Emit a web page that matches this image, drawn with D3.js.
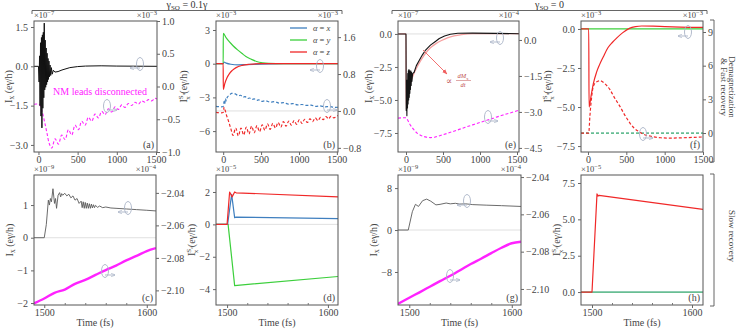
<!DOCTYPE html>
<html>
<head>
<meta charset="utf-8">
<script src="https://cdn.jsdelivr.net/npm/d3@7"></script>
<style>
body { margin: 0; background: #fff; }
svg text { font-family: "Liberation Serif", "Times New Roman", "DejaVu Serif", serif !important; }
</style>
</head>
<body>
<div id="chart"></div>
<script>
// ---- data, [time (fs), value] ----
// (a) total charge current (x1e-7) and magnetization (x1e-3), gamma_SO = 0.1 gamma
let aCurrent = [[-57,0],[0,0],[8,-0.6],[14,0.4],[20,-1.5],[26,0.9],[32,-1.9],[38,1.1],[44,-2.35],[50,1.2],[56,-1.6],
  [62,1.3],[68,-1.2],[74,1.65],[80,-0.9],[86,1.0],[92,-0.8],[98,0.7],[104,-0.7],[110,0.5],[116,-0.6],[122,0.3],
  [128,-0.5],[134,0.2],[140,-0.4],[148,0.05],[156,-0.35],[165,-0.05],[175,-0.3],[190,-0.15],[210,-0.22],[250,-0.2],
  [300,-0.14],[400,-0.05],[500,-0.01],[600,0.01],[800,0.02],[1000,0.01],[1513,0]];
let aMag = [[-57,-0.27],[0,-0.27],[20,-0.29],[50,-0.4],[80,-0.55],[110,-0.72],[140,-0.88],[170,-0.94],[212,-0.8],
  [255,-0.88],[297,-0.74],[340,-0.81],[382,-0.66],[425,-0.74],[467,-0.59],[510,-0.66],[552,-0.53],[595,-0.59],
  [637,-0.47],[680,-0.53],[722,-0.42],[765,-0.48],[807,-0.38],[850,-0.43],[892,-0.34],[935,-0.39],[977,-0.31],
  [1020,-0.35],[1062,-0.28],[1105,-0.32],[1147,-0.26],[1190,-0.29],[1232,-0.24],[1275,-0.27],[1317,-0.22],
  [1360,-0.24],[1402,-0.2],[1445,-0.22],[1487,-0.18],[1513,-0.19]];

// (b) spin currents (x1e-3, solid) and spin of the magnet (x1e-3, dashed)
let bSpinX = [[-95,0],[0,0],[10,0.15],[40,0.05],[100,-0.05],[200,-0.1],[300,-0.08],[500,-0.03],[800,0],[1515,0]];
let bSpinY = [[-95,0],[0,0],[1,2.7],[40,2.3],[80,1.96],[130,1.6],[190,1.23],[250,0.9],[300,0.64],[370,0.4],
  [440,0.2],[520,0.08],[600,0.03],[800,0],[1515,0]];
let bSpinZ = [[-95,0],[0,0],[1,-2.3],[20,-1.8],[50,-1.25],[80,-0.9],[120,-0.6],[170,-0.35],[250,-0.15],[350,-0.05],
  [500,0],[1515,0]];
let bMagX = [[-95,0.1],[0,0.1],[10,0.2],[20,0.15],[30,0.27],[40,0.22],[55,0.3],[80,0.34],[110,0.38],[140,0.38],
  [170,0.36],[200,0.33],[230,0.34],[260,0.3],[290,0.31],[320,0.27],[350,0.28],[380,0.25],[410,0.26],[440,0.23],
  [470,0.24],[500,0.21],[560,0.22],[620,0.19],[680,0.2],[740,0.17],[800,0.18],[860,0.15],[920,0.16],[980,0.13],
  [1040,0.14],[1100,0.12],[1160,0.125],[1220,0.1],[1280,0.11],[1340,0.09],[1400,0.095],[1460,0.08],[1515,0.08]];
let bMagZ = [[-95,-0.03],[0,-0.03],[10,0.08],[25,0.02],[45,-0.1],[70,-0.22],[100,-0.38],[130,-0.53],[165,-0.37],
  [200,-0.54],[235,-0.37],[270,-0.52],[305,-0.35],[340,-0.5],[375,-0.33],[410,-0.47],[445,-0.32],[480,-0.45],
  [515,-0.3],[550,-0.42],[585,-0.28],[620,-0.4],[655,-0.27],[690,-0.37],[725,-0.25],[760,-0.35],[795,-0.23],
  [830,-0.33],[865,-0.22],[900,-0.31],[935,-0.21],[970,-0.29],[1005,-0.19],[1040,-0.27],[1075,-0.18],[1110,-0.25],
  [1145,-0.17],[1180,-0.23],[1215,-0.15],[1250,-0.21],[1285,-0.14],[1320,-0.19],[1355,-0.12],[1390,-0.17],
  [1425,-0.11],[1460,-0.15],[1515,-0.1]];

// (e) charge current (x1e-7), dM/dt guide, magnetization (x1e-4), gamma_SO = 0
let eCurrent = [[-108,0],[0,0],[3,-5.8],[8,-5.0],[12,-6.2],[16,-3.5],[20,-5.6],[24,-3.0],[28,-5.3],[32,-2.8],
  [36,-5.0],[40,-2.7],[44,-4.8],[48,-2.8],[52,-4.5],[56,-2.9],[60,-4.2],[65,-2.8],[70,-3.9],[75,-2.9],[80,-3.6],
  [90,-3.0],[110,-2.9],[140,-2.4],[180,-2.0],[220,-1.6],[265,-1.22],[330,-0.85],[393,-0.59],[450,-0.35],
  [521,-0.15],[600,-0.02],[700,0.05],[900,0.06],[1200,0.04],[1527,0.02]];
let eDMdt = [[-108,0],[0,0],[2,-5.7],[20,-4.8],[50,-3.9],[100,-3.1],[150,-2.5],[200,-2.0],[260,-1.5],[330,-1.05],
  [400,-0.75],[480,-0.5],[560,-0.3],[650,-0.15],[750,-0.05],[900,0.02],[1527,0.02]];
let eMag = [[-108,-3.26],[0,-3.24],[15,-3.3],[50,-3.5],[100,-3.72],[150,-3.88],[200,-3.98],[260,-4.04],[330,-4.07],
  [400,-4.04],[500,-3.95],[600,-3.85],[700,-3.75],[800,-3.64],[900,-3.54],[1000,-3.44],[1100,-3.34],[1200,-3.24],
  [1300,-3.14],[1400,-3.05],[1527,-2.93]];

// (f) spin currents (x1e-3) and spin of the magnet (x1e-3)
let fSpinZ = [[-91,0],[10,0],[14,-5.0],[40,-4.3],[70,-3.5],[110,-2.8],[150,-2.3],[200,-1.78],[260,-1.2],[320,-0.85],
  [370,-0.6],[450,-0.25],[540,0.04],[620,0.15],[700,0.19],[850,0.18],[1000,0.15],[1200,0.12],[1500,0.1]];
let fSpinXY = [[-91,0],[1500,0]];
let fMagZ = [[-91,0],[10,0],[25,1.5],[44,2.97],[70,4.16],[110,4.55],[156,4.66],[220,4.4],[287,3.86],[350,3.1],
  [417,2.37],[480,1.6],[547,0.89],[600,0.45],[657,0.15],[740,-0.15],[826,-0.3],[950,-0.42],[1060,-0.45],
  [1250,-0.42],[1500,-0.35]];
let fMagXY = [[-91,0],[1500,0]];

// (c) slow recovery, gamma_SO = 0.1 gamma: current (x1e-9) and magnetization (x1e-4)
let cCurrent = [[1490,0],[1500,0],[1502,0.4],[1504,1.15],[1505,1.0],[1506,1.2],[1507,1.1],[1508.5,1.5],[1510,1.05],
  [1511,1.2],[1512,0.9],[1513.5,1.3],[1515,1.38],[1516,1.25],[1517,1.35],[1518,1.3],[1520,1.36],[1522,1.28],
  [1524,1.33],[1526,1.22],[1528,1.28],[1530,1.15],[1532,1.2],[1534,1.05],[1536,1.12],[1537,0.92],[1538,1.1],
  [1539,0.9],[1540,1.08],[1541,0.9],[1542,1.06],[1543,0.9],[1544,1.04],[1545,0.9],[1546,1.03],[1547,0.91],
  [1548,1.01],[1549,0.92],[1550,0.99],[1552,0.93],[1554,0.97],[1557,0.92],[1560,0.94],[1565,0.91],[1570,0.9],
  [1580,0.88],[1590,0.86],[1600,0.84],[1609,0.82]];
let cMag = [[1490,-2.108],[1500,-2.105],[1510,-2.1015],[1520,-2.0995],[1530,-2.096],[1540,-2.0935],[1550,-2.0905],
  [1560,-2.0875],[1570,-2.0848],[1580,-2.0815],[1590,-2.0788],[1600,-2.0758],[1609,-2.074]];

// (d) spin currents (x1e-5)
let dSpinX = [[1489,0],[1500.5,0],[1504.5,1.85],[1507.5,0.42],[1509,0.45],[1610,0.35]];
let dSpinY = [[1489,0],[1501,0],[1507.5,-3.78],[1610,-3.22]];
let dSpinZ = [[1489,0],[1500,0],[1502.5,2.0],[1505,1.7],[1507.5,2.0],[1509,1.95],[1610,1.7]];

// (g) slow recovery, gamma_SO = 0: current (x1e-9) and magnetization (x1e-4)
let gCurrent = [[1489,0],[1499,0],[1503,3.5],[1506,4.9],[1509,4.5],[1513,5.6],[1517,5.9],[1521,5.5],[1526,4.8],
  [1530,4.9],[1536,5.15],[1540,5.0],[1545,5.1],[1549,4.95],[1555,5.0],[1562,4.85],[1575,4.75],[1590,4.65],[1609,4.5]];
let gMag = [[1489,-2.108],[1500,-2.1047],[1510,-2.1018],[1520,-2.0988],[1530,-2.0958],[1540,-2.0929],[1550,-2.0898],
  [1560,-2.0866],[1570,-2.0838],[1580,-2.0808],[1590,-2.0779],[1600,-2.0755],[1609,-2.0747]];

// (h) spin currents (x1e-5)
let hSpinZ = [[1489,0],[1500,0],[1505,6.75],[1506,6.6],[1507,6.65],[1611,5.68]];
let hSpinXY = [[1489,0],[1611,0]];

// tick labels
let topTimeTicks = [0, 500, 1000, 1500];
let slowTimeTicks = [1500, 1600];
let slowMinorTicks = [1520, 1540, 1560, 1580];
let legendLabels = ["x", "y", "z"];

const blue = "#3f7fbf", green = "#3ccf3c", red = "#f02828", magenta = "#ff22ff", grayLine = "#5a5a5a";
const textCol = "#444";

let svg = d3.select("#chart").append("svg").attr("width", 736).attr("height", 332);
let defs = svg.append("defs");
defs.append("marker").attr("id", "arrowRed").attr("viewBox", "0 0 10 10").attr("refX", 9).attr("refY", 5)
  .attr("markerWidth", 6).attr("markerHeight", 6).attr("orient", "auto")
  .append("path").attr("d", "M0,1 L10,5 L0,9 z").attr("fill", "#f06060");
defs.append("marker").attr("id", "arrowIcon").attr("viewBox", "0 0 10 10").attr("refX", 9).attr("refY", 5)
  .attr("markerWidth", 5).attr("markerHeight", 5).attr("orient", "auto")
  .append("path").attr("d", "M0,1 L10,5 L0,9").attr("fill", "none").attr("stroke", "#a9b3c6").attr("stroke-width", 1.5);

let clipId = 0;

function expLabel(g, x, y, anchor, exp) {
  let t = g.append("text").attr("x", x).attr("y", y).attr("text-anchor", anchor)
    .attr("font-size", 8.5).attr("fill", textCol).text("×10");
  t.append("tspan").attr("dy", -3.5).attr("font-size", 6.5).text(exp);
}

function currentLabel(g, x, cy) {
  let t = g.append("text").attr("transform", "translate(" + x + "," + cy + ") rotate(-90)")
    .attr("text-anchor", "middle").attr("font-size", 10).attr("fill", textCol).text("I");
  t.append("tspan").attr("dy", 2).attr("font-size", 7.5).text("x");
  t.append("tspan").attr("dy", -2).text(" (eγ/h)");
}

function spinLabel(g, x, cy) {
  let t = g.append("text").attr("transform", "translate(" + x + "," + cy + ") rotate(-90)")
    .attr("text-anchor", "middle").attr("font-size", 10).attr("fill", textCol).text("I");
  t.append("tspan").attr("dy", -4).attr("font-size", 7).text("S");
  t.append("tspan").attr("dy", 1.5).attr("font-size", 5).text("α");
  t.append("tspan").attr("dx", -7).attr("dy", 5).attr("font-size", 7).text("x");
  t.append("tspan").attr("dy", -2.5).text(" (eγ/h)");
}

function icon(g, cx, cy, dir) {
  g.append("ellipse").attr("cx", cx).attr("cy", cy).attr("rx", 3.5).attr("ry", 6.5)
    .attr("fill", "none").attr("stroke", "#a9b3c6").attr("stroke-width", 0.9);
  g.append("line").attr("x1", cx).attr("y1", cy + 4).attr("x2", cx + dir * 10).attr("y2", cy + 4)
    .attr("stroke", "#a9b3c6").attr("stroke-width", 0.9).attr("marker-end", "url(#arrowIcon)");
}

function panel(p) {
  let g = svg.append("g");
  let x = d3.scaleLinear().domain(p.xd).range([p.x0, p.x1]);
  let yl = d3.scaleLinear().domain(p.yl).range([p.y1, p.y0]);
  let yr = p.yr ? d3.scaleLinear().domain(p.yr).range([p.y1, p.y0]) : null;

  let id = "clip" + (clipId++);
  defs.append("clipPath").attr("id", id).append("rect")
    .attr("x", p.x0).attr("y", p.y0).attr("width", p.x1 - p.x0).attr("height", p.y1 - p.y0);
  let plot = g.append("g").attr("clip-path", "url(#" + id + ")");

  // light zero reference line
  if (p.zero) {
    let ys = p.zero === "r" ? yr : yl;
    plot.append("line").attr("x1", p.x0).attr("x2", p.x1).attr("y1", ys(0)).attr("y2", ys(0))
      .attr("stroke", "#d8d8d8").attr("stroke-width", 0.8);
  }

  p.series.forEach(s => {
    let ys = s.axis === "r" ? yr : yl;
    let line = d3.line().x(d => x(d[0])).y(d => ys(d[1])).curve(s.curve || d3.curveLinear);
    plot.append("path").datum(s.data).attr("d", line)
      .attr("fill", "none").attr("stroke", s.color).attr("stroke-width", s.width || 1.2)
      .attr("stroke-dasharray", s.dash ? "3,2" : null)
      .attr("opacity", s.opacity || 1)
      .attr("stroke-linejoin", "round");
  });

  g.append("rect").attr("x", p.x0).attr("y", p.y0).attr("width", p.x1 - p.x0).attr("height", p.y1 - p.y0)
    .attr("fill", "none").attr("stroke", "#555").attr("stroke-width", 1);

  let axL = g.append("g").attr("transform", "translate(" + p.x0 + ",0)")
    .call(d3.axisLeft(yl).tickValues(p.ylt).tickFormat(d3.format(p.ylf)).tickSize(3).tickPadding(3));
  let axes = [axL];
  if (yr) {
    axes.push(g.append("g").attr("transform", "translate(" + p.x1 + ",0)")
      .call(d3.axisRight(yr).tickValues(p.yrt).tickFormat(d3.format(p.yrf)).tickSize(3).tickPadding(2)));
  }
  let axB = g.append("g").attr("transform", "translate(0," + p.y1 + ")")
    .call(d3.axisBottom(x).tickValues(p.xt).tickFormat(d3.format("d")).tickSize(3).tickPadding(1));
  axes.push(axB);
  if (p.minor) {
    g.append("g").attr("transform", "translate(0," + p.y1 + ")")
      .call(d3.axisBottom(x).tickValues(p.minor).tickFormat("").tickSize(-2))
      .call(a => a.select(".domain").remove())
      .selectAll("line").attr("stroke", "#777");
  }
  axes.forEach(a => {
    a.select(".domain").remove();
    a.selectAll("line").attr("stroke", "#666");
    a.selectAll("text").attr("fill", textCol).attr("font-size", 10);
  });

  expLabel(g, p.x0, p.y0 - 3, "start", p.expL);
  if (p.expR) expLabel(g, p.x1, p.y0 - 3, "end", p.expR);

  g.append("text").attr("x", p.x1 - 3).attr("y", p.y1 - 4).attr("text-anchor", "end")
    .attr("font-size", 10).attr("fill", textCol).text("(" + p.name + ")");

  if (p.ylab === "I") currentLabel(g, p.labX, (p.y0 + p.y1) / 2);
  else spinLabel(g, p.labX, (p.y0 + p.y1) / 2);

  if (p.bottomLab) {
    g.append("text").attr("x", (p.x0 + p.x1) / 2).attr("y", 326).attr("text-anchor", "middle")
      .attr("font-size", 10).attr("fill", textCol).text("Time (fs)");
  }
  (p.icons || []).forEach(ic => icon(g, ic[0], ic[1], ic[2]));
  return { g: g, x: x, yl: yl, yr: yr };
}

// ---- top row ----
let pa = panel({ name: "a", x0: 34, x1: 157, y0: 21, y1: 152, xd: [-57, 1513], xt: topTimeTicks,
  yl: [-3.27, 1.73], ylt: [1.5, 0, -1.5, -3.0], ylf: ".1f", yr: [-1, 1], yrt: [1, 0.5, 0, -0.5, -1], yrf: ".1f",
  expL: "−7", expR: "−3", ylab: "I", labX: 12,
  icons: [[140, 64, -1], [107, 106, 1]],
  series: [
    { data: aMag, axis: "r", color: magenta, dash: true, curve: d3.curveCatmullRom, width: 1.1 },
    { data: aCurrent, axis: "l", color: "#111", width: 1.0 }
  ] });
pa.g.append("text").attr("x", 100).attr("y", 95).attr("text-anchor", "middle").attr("font-size", 10)
  .attr("fill", magenta).text("NM leads disconnected");

let pb = panel({ name: "b", x0: 216, x1: 338, y0: 21, y1: 152, xd: [-95, 1515], xt: topTimeTicks,
  yl: [-7.86, 3.8], ylt: [3, 0, -3, -6], ylf: "d", yr: [-0.89, 1.95], yrt: [1.6, 0.8, 0, -0.8], yrf: ".1f",
  expL: "−3", expR: "−3", ylab: "S", labX: 187, zero: "r",
  icons: [[320, 66, -1], [327, 106, 1]],
  series: [
    { data: bMagX, axis: "r", color: blue, dash: true, curve: d3.curveCatmullRom },
    { data: bMagZ, axis: "r", color: red, dash: true, curve: d3.curveCatmullRom },
    { data: bSpinX, axis: "l", color: blue, curve: d3.curveMonotoneX },
    { data: bSpinY, axis: "l", color: green, curve: d3.curveMonotoneX },
    { data: bSpinZ, axis: "l", color: red, curve: d3.curveMonotoneX }
  ] });
// legend
let legColors = [blue, green, red];
let leg = pb.g.append("g");
legendLabels.forEach((lab, i) => {
  let yy = 28 + i * 12;
  leg.append("line").attr("x1", 290).attr("x2", 307).attr("y1", yy).attr("y2", yy)
    .attr("stroke", legColors[i]).attr("stroke-width", 1.3);
  let t = leg.append("text").attr("x", 313).attr("y", yy + 3).attr("font-size", 8.5).attr("fill", textCol)
    .attr("font-style", "italic").text("α");
  t.append("tspan").attr("font-style", "normal").text(" = ");
  t.append("tspan").text(lab);
});

let pe = panel({ name: "e", x0: 398, x1: 519, y0: 21, y1: 152, xd: [-108, 1527], xt: topTimeTicks,
  yl: [-8.94, 0.98], ylt: [0, -2.5, -5, -7.5], ylf: ".1f", yr: [-4.67, 0.79], yrt: [0, -1.5, -3, -4.5], yrf: ".1f",
  expL: "−7", expR: "−4", ylab: "I", labX: 372, zero: "l",
  icons: [[500, 38, -1], [488, 117, 1]],
  series: [
    { data: eMag, axis: "r", color: magenta, dash: true, curve: d3.curveMonotoneX, width: 1.1 },
    { data: eDMdt, axis: "l", color: "#f6a0a0", curve: d3.curveMonotoneX, width: 1.3 },
    { data: eCurrent, axis: "l", color: "#151515", width: 1.1 }
  ] });
pe.g.append("line").attr("x1", 423).attr("y1", 50).attr("x2", 447).attr("y2", 74)
  .attr("stroke", "#f06060").attr("stroke-width", 0.9).attr("marker-end", "url(#arrowRed)");
let dm = pe.g.append("g").attr("fill", "#c05050");
dm.append("text").attr("x", 446).attr("y", 84).attr("font-size", 9).text("∝");
let dmn = dm.append("text").attr("x", 463).attr("y", 78).attr("text-anchor", "middle").attr("font-size", 6.5)
  .attr("font-style", "italic").text("dM");
dmn.append("tspan").attr("dy", 1.5).attr("font-size", 4.5).attr("font-style", "normal").text("x");
pe.g.append("line").attr("x1", 456).attr("x2", 471).attr("y1", 80.5).attr("y2", 80.5).attr("stroke", "#c05050").attr("stroke-width", 0.5);
dm.append("text").attr("x", 463).attr("y", 87).attr("text-anchor", "middle").attr("font-size", 6.5)
  .attr("font-style", "italic").text("dt");

let pf = panel({ name: "f", x0: 581, x1: 703, y0: 21, y1: 152, xd: [-91, 1500], xt: topTimeTicks,
  yl: [-7.88, 0.51], ylt: [0, -2.5, -5, -7.5], ylf: ".1f", yr: [-1.69, 9.98], yrt: [9, 6, 3, 0], yrf: "d",
  expL: "−3", expR: "−3", ylab: "S", labX: 551,
  icons: [[688, 32, -1], [643, 134, 1]],
  series: [
    { data: fMagXY, axis: "r", color: blue, dash: true, opacity: 0.8 },
    { data: fMagXY, axis: "r", color: green, dash: true, opacity: 0.6 },
    { data: fMagZ, axis: "r", color: red, dash: true, curve: d3.curveMonotoneX },
    { data: fSpinXY, axis: "l", color: green },
    { data: fSpinZ, axis: "l", color: red, curve: d3.curveMonotoneX }
  ] });

// ---- bottom row ----
panel({ name: "c", x0: 34, x1: 156, y0: 175, y1: 305, xd: [1490, 1609], xt: slowTimeTicks, minor: slowMinorTicks,
  yl: [-2.06, 1.92], ylt: [1, 0, -1, -2], ylf: "d", yr: [-2.109, -2.029], yrt: [-2.04, -2.06, -2.08, -2.10], yrf: ".2f",
  expL: "−9", expR: "−4", ylab: "I", labX: 13, zero: "l", bottomLab: true,
  icons: [[128, 208, -1], [105, 271, 1]],
  series: [
    { data: cMag, axis: "r", color: magenta, width: 2.4, curve: d3.curveMonotoneX },
    { data: cCurrent, axis: "l", color: grayLine, width: 0.9 }
  ] });

panel({ name: "d", x0: 216, x1: 338, y0: 175, y1: 305, xd: [1489, 1610], xt: slowTimeTicks, minor: slowMinorTicks,
  yl: [-4.98, 3.05], ylt: [2, 0, -2, -4], ylf: "d",
  expL: "−5", ylab: "S", labX: 195, zero: "l", bottomLab: true,
  series: [
    { data: dSpinY, axis: "l", color: green },
    { data: dSpinX, axis: "l", color: blue },
    { data: dSpinZ, axis: "l", color: red }
  ] });

panel({ name: "g", x0: 398, x1: 521, y0: 175, y1: 305, xd: [1489, 1609], xt: slowTimeTicks, minor: slowMinorTicks,
  yl: [-14.3, 10.5], ylt: [8, 0, -8], ylf: "d", yr: [-2.1086, -2.0389], yrt: [-2.04, -2.06, -2.08, -2.10], yrf: ".2f",
  expL: "−9", expR: "−4", ylab: "I", labX: 377, zero: "l", bottomLab: true,
  icons: [[467, 201, -1], [450, 276, 1]],
  series: [
    { data: gMag, axis: "r", color: magenta, width: 2.4, curve: d3.curveMonotoneX },
    { data: gCurrent, axis: "l", color: grayLine, width: 0.9 }
  ] });

panel({ name: "h", x0: 581, x1: 703, y0: 175, y1: 305, xd: [1489, 1611], xt: slowTimeTicks, minor: slowMinorTicks,
  yl: [-0.89, 8.05], ylt: [7.5, 5, 2.5, 0], ylf: ".1f",
  expL: "−5", ylab: "S", labX: 560, bottomLab: true,
  series: [
    { data: hSpinXY, axis: "l", color: blue, opacity: 0.8 },
    { data: hSpinXY, axis: "l", color: green, opacity: 0.6 },
    { data: hSpinZ, axis: "l", color: red }
  ] });

// ---- group brackets ----
function topBracket(x0, x1, sub, tail) {
  svg.append("path").attr("d", "M" + x0 + ",14 L" + x0 + ",10.5 L" + x1 + ",10.5 L" + x1 + ",14")
    .attr("fill", "none").attr("stroke", "#555").attr("stroke-width", 0.9);
  let t = svg.append("text").attr("x", (x0 + x1) / 2).attr("y", 8).attr("text-anchor", "middle")
    .attr("font-size", 10).attr("fill", "#333").text("γ");
  t.append("tspan").attr("dy", 2).attr("font-size", 7).text(sub);
  t.append("tspan").attr("dy", -2).text(tail);
}
topBracket(32, 342, "SO", " = 0.1γ");
topBracket(392, 707, "SO", " = 0");

function sideBracket(y0, y1, lines) {
  svg.append("path").attr("d", "M710," + y0 + " L714," + y0 + " L714," + y1 + " L710," + y1)
    .attr("fill", "none").attr("stroke", "#555").attr("stroke-width", 0.9);
  let cy = (y0 + y1) / 2 - 4;
  lines.forEach((ln, i) => {
    svg.append("text").attr("transform", "translate(" + (729 - i * 8) + "," + cy + ") rotate(90)")
      .attr("text-anchor", "middle").attr("font-size", 9).attr("fill", "#444").text(ln);
  });
}
sideBracket(20, 162, ["Demagnetization", "& Fast recovery"]);
sideBracket(174, 306, ["Slow recovery"]);
</script>
</body>
</html>
